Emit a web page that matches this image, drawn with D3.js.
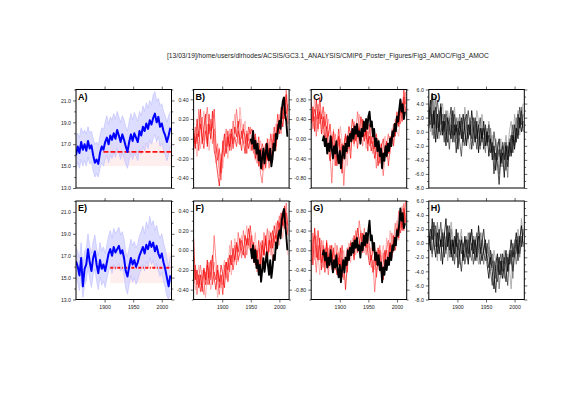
<!DOCTYPE html>
<html>
<head>
<meta charset="utf-8">
<script src="https://cdn.jsdelivr.net/npm/d3@7"></script>
<style>
	body { margin: 0; background: #fff; }
	svg { display: block; font-family: "Liberation Sans", Arial, sans-serif; }
</style>
</head>
<body>
<svg id="chart" width="561" height="397"></svg>
<script>
// years of the model members (every 3rd year) and of the observations (every 2nd year)
var years = d3.range(1850, 2016, 3),
	obsYearsLate = d3.range(1950, 2015, 2),
	obsYearsLong = d3.range(1870, 2015, 2);

var titleText = "[13/03/19]/home/users/dlrhodes/ACSIS/GC3.1_ANALYSIS/CMIP6_Poster_Figures/Fig3_AMOC/Fig3_AMOC";
var xTicks = [1900, 1950, 2000];

// A) ensemble mean, spread, reference level
var aMean = [16.0,16.8,16.2,17.2,16.5,17.0,16.4,17.3,16.6,16.9,16.0,15.3,15.6,15.2,16.2,16.8,16.5,17.2,17.6,17.0,17.8,17.4,18.0,17.5,18.3,17.8,17.2,17.9,17.4,16.8,16.3,17.2,17.9,17.3,18.0,17.6,17.2,18.2,17.8,18.6,18.2,18.9,18.4,19.2,18.8,19.4,19.8,19.0,19.5,18.6,18.9,18.2,17.8,17.2,17.8,18.5];
var aHi = [17.8,18.0,17.6,18.5,18.0,18.3,17.9,18.6,18.0,18.2,17.5,17.0,17.2,16.9,17.8,18.5,18.3,19.0,19.6,18.8,19.5,19.2,19.8,19.3,20.0,19.5,19.0,19.6,19.2,18.6,18.2,19.1,19.8,19.2,19.9,19.5,19.1,20.0,19.6,20.5,20.0,20.8,20.3,21.0,20.6,21.5,21.8,20.9,21.2,20.5,20.7,20.0,19.6,19.0,19.6,20.0];
var aLo = [14.6,15.4,14.8,15.6,15.0,15.5,15.0,15.8,15.2,15.4,14.6,14.0,14.3,14.0,14.8,15.3,15.0,15.6,16.0,15.3,16.0,15.7,16.3,15.8,16.6,16.2,15.6,16.2,15.7,15.2,14.8,15.6,16.2,15.6,16.2,15.9,15.5,16.5,16.1,16.8,16.4,17.1,16.6,17.4,17.0,17.5,17.9,17.2,17.7,16.8,17.1,16.5,16.0,15.5,16.1,16.8];
var aRef = [1898, 16.3, 15.0, 17.2];   // start year, level, band low, band high

// E) ensemble mean, spread, reference level
var eMean = [16.5,16.0,15.2,16.8,14.2,15.8,16.2,17.6,16.4,15.6,16.8,17.4,16.2,15.4,16.6,15.8,16.2,15.6,16.4,17.2,17.6,17.0,17.8,17.3,17.6,17.9,17.2,17.5,16.8,15.6,15.1,16.0,16.8,16.2,16.6,16.0,16.4,17.0,17.4,17.8,17.2,18.0,17.6,18.3,17.8,18.2,17.4,17.9,17.2,16.8,17.2,16.4,15.8,15.0,14.2,15.2];
var eHi = [17.8,17.4,16.8,18.2,16.0,17.4,17.7,19.0,17.9,17.2,18.3,18.9,17.7,17.0,18.2,17.4,17.8,17.2,18.0,18.8,19.3,18.6,19.5,19.0,19.3,19.6,18.9,19.2,18.5,17.3,16.9,17.7,18.5,17.9,18.3,17.7,18.1,18.8,19.2,19.7,19.0,20.1,19.5,20.6,19.8,20.2,19.3,19.8,19.0,18.6,19.0,18.2,17.6,16.8,16.0,17.0];
var eLo = [15.0,14.6,13.8,15.3,13.2,14.3,14.7,16.0,14.9,14.1,15.3,15.8,14.7,13.9,15.1,14.3,14.7,14.1,14.9,15.6,16.0,15.4,16.2,15.7,16.0,16.3,15.6,15.9,15.2,14.0,13.5,14.4,15.2,14.6,15.0,14.4,14.8,15.4,15.8,16.2,15.6,16.5,16.0,16.8,16.2,16.6,15.8,16.3,15.6,15.1,15.5,14.7,14.1,13.3,13.0,13.6];
var eRef = [1910, 15.9, 14.5, 17.3];

// B) model members + observations
var b1 = [0.05,-0.10,0.20,0.02,0.30,-0.05,0.12,0.25,-0.08,0.15,0.00,0.28,-0.12,-0.20,-0.35,-0.48,-0.25,-0.10,0.05,-0.15,0.02,-0.08,0.10,-0.05,0.12,0.02,0.18,-0.06,0.08,-0.02,-0.15,0.05,-0.10,0.00,-0.12,0.05,-0.20,-0.08,-0.28,-0.10,-0.32,-0.15,-0.05,-0.22,-0.10,-0.25,-0.05,0.05,-0.08,0.15,0.05,0.22,0.12,0.30,0.45,0.15];
var b2 = [-0.08,0.12,-0.05,0.30,0.10,0.22,-0.02,0.18,0.32,0.05,0.20,-0.05,0.10,-0.15,-0.05,-0.30,-0.42,-0.18,-0.05,0.10,-0.08,0.05,-0.12,0.18,0.05,0.30,0.12,0.20,0.00,0.15,-0.05,0.08,-0.02,0.12,-0.05,-0.15,0.02,-0.25,-0.12,-0.35,-0.45,-0.20,-0.28,-0.10,-0.30,-0.15,-0.22,0.00,-0.12,0.08,0.18,0.05,0.35,0.20,0.50,0.28];
var b3 = [-0.15,0.02,-0.18,0.08,-0.10,0.12,0.28,0.05,0.15,-0.12,0.05,0.18,0.02,-0.25,-0.10,-0.38,-0.15,-0.30,-0.12,0.02,-0.20,0.10,0.00,0.08,0.25,0.10,-0.05,0.32,0.15,0.05,0.18,-0.08,0.06,-0.12,0.02,-0.10,-0.22,-0.05,-0.15,-0.02,-0.18,-0.32,-0.12,-0.20,0.00,-0.15,0.05,-0.10,0.15,0.02,0.25,0.10,0.15,0.38,0.20,0.05];
var b4 = [0.10,-0.05,0.05,-0.12,0.15,0.02,-0.10,0.08,-0.05,0.25,0.08,0.12,0.30,-0.05,-0.22,-0.10,-0.35,-0.02,-0.18,-0.08,0.08,-0.12,0.05,-0.10,0.02,-0.08,0.08,0.00,-0.12,0.10,0.02,-0.15,0.12,0.05,0.10,-0.08,0.05,-0.12,0.02,-0.22,-0.05,-0.12,-0.30,0.00,-0.18,0.05,-0.10,0.12,-0.02,0.25,0.10,0.32,0.20,0.42,0.25,0.35];
var bObs = [0.00,-0.05,0.08,-0.10,-0.02,-0.15,-0.05,-0.22,-0.12,-0.30,-0.20,-0.10,-0.25,-0.15,-0.05,-0.18,-0.22,-0.10,-0.28,-0.20,-0.05,-0.12,0.05,0.00,0.12,0.18,0.10,0.28,0.38,0.42,0.25,0.18,0.02];

// C) model members + observations
var c1 = [0.30,0.65,0.15,0.80,0.40,0.55,0.10,0.45,-0.05,0.25,-0.20,-0.45,0.05,-0.30,-0.10,-0.55,0.05,-0.25,-0.70,-0.15,0.10,-0.10,0.25,0.05,0.40,0.15,-0.05,0.30,0.10,0.45,0.20,-0.05,0.20,-0.10,0.05,-0.25,-0.05,-0.40,-0.15,-0.55,-0.30,-0.10,-0.45,-0.20,-0.05,-0.30,0.05,-0.10,0.20,0.05,0.40,0.25,0.60,0.35,0.85,0.55];
var c2 = [0.55,0.20,0.45,0.05,0.70,0.30,0.50,0.20,0.35,0.00,0.15,-0.30,-0.90,-0.20,0.10,-0.20,-0.45,0.00,-0.25,-0.95,-0.35,0.05,-0.20,0.15,-0.05,0.35,0.10,0.55,0.25,0.05,-0.15,0.30,0.00,0.15,-0.15,0.05,-0.30,-0.10,-0.60,-0.25,-0.10,-0.40,-0.75,-0.30,-0.10,0.10,-0.20,0.05,0.30,0.10,0.25,0.55,0.30,0.70,0.45,0.95];
var c3 = [0.10,0.40,0.85,0.25,0.15,0.60,0.30,0.05,0.55,0.20,0.40,0.10,-0.25,0.20,-0.40,0.00,-0.15,0.25,-0.05,-0.40,-0.10,-0.55,0.00,-0.25,0.10,-0.15,0.30,0.00,0.50,0.15,0.35,0.10,-0.20,0.35,0.10,0.25,-0.05,0.15,-0.20,0.00,-0.35,-0.60,-0.20,0.05,-0.40,-0.15,-0.30,0.20,-0.05,0.40,0.15,0.05,0.50,0.75,0.40,0.65];
var c4 = [0.75,0.35,0.60,0.45,0.20,0.85,0.40,0.65,0.25,0.50,0.05,0.30,-0.10,0.15,-0.55,-0.20,0.20,-0.35,-0.10,-0.20,0.05,-0.30,-0.05,-0.40,0.20,-0.10,0.15,-0.20,0.20,-0.05,0.40,0.05,0.15,-0.25,0.30,-0.10,0.15,-0.20,0.10,-0.30,-0.50,-0.15,0.00,-0.35,-0.10,-0.55,-0.20,0.10,-0.15,0.25,0.55,0.30,0.80,0.50,1.00,0.70];
var cObs = [-0.05,0.05,-0.15,0.00,-0.30,-0.10,-0.25,0.05,-0.20,-0.40,-0.15,-0.30,-0.05,-0.35,-0.50,-0.25,-0.60,-0.35,-0.15,-0.40,-0.10,-0.25,0.05,-0.15,0.10,-0.05,0.20,0.00,0.25,0.10,0.30,0.05,0.15,-0.10,0.20,0.05,0.35,0.15,0.40,0.20,0.45,0.55,0.25,0.35,0.05,0.20,-0.15,0.00,-0.25,-0.05,-0.35,-0.20,-0.60,-0.30,-0.45,-0.15,-0.35,-0.10,-0.25,0.00,-0.15,0.15,0.05,0.30,0.15,0.45,0.35,0.60,0.80,0.55,0.70,0.40,0.55];

// D) members
var d1 = [2.0,4.5,0.5,3.0,-1.5,2.5,0.0,3.5,-0.5,1.5,-2.0,2.0,0.5,-1.0,3.0,-0.5,1.0,-2.5,1.5,-1.0,2.5,0.0,-2.0,1.0,-0.5,3.0,0.5,-1.5,1.5,-3.0,0.5,-1.0,1.5,-2.0,0.0,-3.5,-1.0,-4.0,-2.0,-5.5,-2.5,-1.0,-4.5,-3.0,-6.5,-2.0,-4.0,-1.5,-3.5,-0.5,-2.5,0.5,-1.0,2.0,0.0,1.5];
var d2 = [0.5,2.5,5.5,1.0,3.5,-1.0,1.5,4.0,0.0,2.5,0.5,-1.5,1.5,3.5,-1.5,1.0,-3.0,0.5,-0.5,2.0,-1.5,1.5,2.5,-1.0,1.0,-2.5,0.0,2.0,-1.0,1.0,-2.0,0.5,-2.5,1.0,-1.5,-0.5,-3.0,-1.5,-6.0,-3.0,-4.5,-7.5,-3.5,-2.0,-4.0,-1.5,-5.0,-2.5,-0.5,-3.0,1.0,-1.5,2.5,0.5,3.0,0.0];
var d3s = [3.0,1.0,2.5,-1.0,1.5,4.5,2.0,-0.5,1.5,-1.5,2.5,0.0,-2.5,1.0,-0.5,2.5,0.0,1.5,-1.5,-3.5,0.0,-2.0,1.0,3.0,0.5,-1.0,2.0,-0.5,-2.5,0.5,2.0,-1.5,0.5,-0.5,-2.0,1.0,-1.5,-3.0,0.0,-2.0,-4.0,-2.5,-5.0,-1.5,-3.0,-5.5,-2.0,-3.5,-1.0,1.0,-2.0,-0.5,0.5,3.5,1.0,2.5];
var d4 = [1.0,3.5,-0.5,2.0,5.0,0.5,3.0,1.0,2.5,0.0,3.0,1.5,-0.5,2.0,0.5,-1.5,2.0,-0.5,2.5,0.0,-1.0,2.0,-1.5,0.0,2.0,0.0,-2.0,1.0,0.0,-1.0,-2.5,-0.5,-1.0,-3.0,0.5,-1.5,0.5,-2.5,-4.0,-1.0,-3.0,-6.0,-2.5,-4.5,-1.5,-3.5,-6.5,-1.0,-3.0,0.0,-1.5,2.0,-0.5,1.5,3.5,0.5];
var d5 = [4.0,0.0,2.0,5.0,0.5,1.5,-1.0,2.5,4.0,1.0,-0.5,3.0,1.0,0.0,1.5,3.5,-1.0,2.0,0.5,1.5,-2.0,3.5,0.5,-1.0,-2.5,1.5,-1.0,0.0,3.0,1.5,-1.0,2.5,-0.5,0.5,-1.0,1.5,-1.0,-0.5,-2.5,-4.0,-1.5,-3.5,-1.0,-5.0,-2.5,-0.5,-3.0,0.0,1.5,-1.5,2.5,0.0,3.0,-0.5,2.0,4.0];

// F) model members + observations
var f1 = [0.12,-0.30,-0.20,-0.38,-0.25,-0.42,-0.18,-0.30,-0.10,-0.35,-0.22,-0.05,-0.28,-0.40,-0.20,-0.32,-0.15,-0.25,-0.38,-0.12,-0.20,-0.05,-0.15,0.02,-0.10,0.08,-0.02,0.12,0.00,-0.05,0.15,0.05,0.22,0.10,-0.05,0.08,-0.15,0.00,-0.20,-0.08,0.10,-0.05,0.12,-0.10,0.05,0.18,0.02,0.25,0.12,0.30,0.20,0.38,0.25,0.45,0.30,0.15];
var f2 = [-0.35,-0.20,-0.45,-0.28,-0.15,-0.32,-0.45,-0.22,-0.35,-0.12,-0.30,-0.18,0.15,-0.10,-0.32,-0.45,-0.25,-0.35,-0.15,-0.28,-0.08,-0.22,0.10,-0.12,0.05,-0.15,0.18,0.05,-0.08,0.20,0.08,-0.05,0.12,0.00,0.15,-0.08,0.05,-0.22,-0.10,0.08,-0.15,0.18,0.05,0.22,-0.02,0.10,-0.10,0.15,0.00,0.22,0.35,0.15,0.40,0.28,0.48,0.20];
var f3 = [-0.22,-0.40,-0.28,-0.15,-0.35,-0.20,-0.30,-0.48,-0.25,-0.18,-0.40,-0.28,-0.12,-0.22,-0.48,-0.30,-0.38,-0.20,-0.10,-0.30,-0.18,0.05,-0.25,-0.10,0.12,0.00,-0.12,0.05,0.15,-0.02,0.10,0.25,0.02,0.15,-0.10,0.05,0.18,-0.12,0.02,-0.25,0.00,0.08,-0.12,0.05,0.20,-0.05,0.12,0.05,0.28,0.15,0.05,0.25,0.12,0.35,0.18,-0.05];
var f4 = [-0.28,-0.15,-0.35,-0.25,-0.42,-0.30,-0.20,-0.35,-0.15,-0.28,-0.10,-0.35,-0.22,-0.30,-0.15,-0.38,-0.25,-0.45,-0.20,-0.12,-0.32,-0.15,-0.05,-0.20,-0.08,0.05,-0.10,-0.02,0.10,0.02,-0.08,0.12,0.05,0.25,0.08,-0.12,0.02,-0.08,0.10,-0.15,0.05,-0.05,0.15,-0.08,0.10,0.02,0.20,0.08,0.15,0.05,0.28,0.18,0.30,0.22,0.38,0.25];
var fObs = [0.02,-0.08,0.05,-0.12,0.00,-0.18,-0.10,-0.25,-0.15,-0.32,-0.20,-0.08,-0.22,-0.12,-0.02,-0.15,-0.25,-0.10,-0.28,-0.18,-0.05,-0.10,0.08,0.02,0.15,0.20,0.12,0.30,0.36,0.42,0.28,0.15,0.00];

// G) model members + observations
var g1 = [0.20,-0.30,0.45,0.05,-0.20,0.25,-0.40,0.00,-0.25,0.15,-0.35,-0.10,0.10,-0.45,-0.20,-0.05,-0.30,0.05,-0.55,-0.20,-0.80,-0.30,-0.10,0.15,-0.05,0.30,0.10,0.45,0.20,0.00,0.35,0.10,0.25,-0.05,-0.30,-0.10,-0.45,-0.15,-0.30,0.05,-0.20,-0.50,-0.25,0.00,-0.35,-0.10,0.15,-0.05,0.30,0.10,0.45,0.25,0.70,0.40,0.85,0.55];
var g2 = [-0.10,0.35,-0.05,-0.45,0.10,-0.20,0.20,-0.35,0.05,-0.15,-0.50,-0.05,-0.25,0.00,-0.40,0.10,-0.10,-0.35,-0.15,-0.60,-0.25,0.05,-0.20,0.20,0.00,-0.15,0.40,0.15,0.60,0.30,0.10,0.45,-0.10,0.15,0.00,-0.35,-0.20,-0.85,-0.40,-0.20,0.10,-0.25,-0.05,-0.40,0.05,0.20,-0.10,0.35,0.15,0.55,0.30,0.80,0.45,0.65,0.95,0.60];
var g3 = [0.50,0.10,-0.20,0.30,-0.10,-0.50,0.05,0.20,-0.30,-0.10,0.05,-0.25,-0.40,-0.10,0.15,-0.30,-0.05,-0.45,-0.20,0.00,-0.35,-0.10,0.15,-0.25,0.25,0.05,-0.10,0.20,0.00,0.40,0.20,-0.05,0.30,0.10,-0.20,0.05,-0.15,-0.40,0.00,-0.25,-0.45,-0.10,0.10,-0.20,0.25,-0.05,0.40,0.10,-0.05,0.30,0.60,0.20,0.50,0.90,0.45,0.75];
var g4 = [-0.30,0.15,0.30,-0.15,0.40,0.00,-0.25,0.10,-0.45,0.20,-0.15,0.10,-0.30,0.05,-0.25,-0.50,-0.15,-0.30,0.10,-0.40,-0.15,-0.45,0.05,-0.10,0.10,-0.20,0.25,-0.05,0.10,0.35,-0.05,0.20,0.05,0.30,0.10,-0.20,0.05,-0.10,-0.55,-0.20,0.00,-0.30,-0.60,-0.15,0.00,-0.30,0.10,-0.15,0.20,0.00,0.25,0.50,0.35,0.60,0.40,1.00];
var gObs = [-0.10,0.00,-0.20,-0.05,-0.35,-0.15,-0.30,0.00,-0.25,-0.45,-0.20,-0.35,-0.10,-0.40,-0.55,-0.30,-0.65,-0.40,-0.20,-0.45,-0.15,-0.30,0.00,-0.20,0.05,-0.10,0.15,-0.05,0.20,0.05,0.25,0.00,0.10,-0.15,0.15,0.00,0.30,0.10,0.35,0.15,0.40,0.60,0.20,0.30,0.00,0.15,-0.20,-0.05,-0.30,-0.10,-0.40,-0.25,-0.65,-0.35,-0.50,-0.20,-0.40,-0.15,-0.30,-0.05,-0.20,0.10,0.00,0.25,0.10,0.40,0.30,0.55,0.85,0.60,0.75,0.45,0.55];

// H) members
var h1 = [1.0,-1.0,3.5,0.0,-2.0,1.5,-1.5,0.5,-3.0,1.0,3.5,-0.5,1.5,-2.0,0.5,-1.5,2.0,-3.5,-1.0,0.5,-2.5,1.0,-1.0,-3.0,0.0,2.0,-1.5,0.5,-2.0,2.5,-0.5,-2.5,-1.0,0.5,-3.0,-5.0,-2.0,-4.0,-6.5,-3.0,-1.5,-4.5,-2.5,-5.0,-3.0,-1.0,-4.0,-2.0,0.5,-2.0,-0.5,1.5,-1.5,0.5,2.5,-0.5];
var h2 = [-0.5,2.0,0.5,3.0,1.0,-1.5,2.0,-0.5,1.5,-2.0,0.0,2.5,-1.0,0.5,-2.5,1.0,-0.5,1.5,-2.0,-4.0,-1.0,-2.0,0.5,-1.5,1.5,-1.0,0.5,-2.5,-0.5,1.0,-1.5,0.0,2.0,-1.0,-2.0,-3.5,-1.0,-2.5,-4.0,-7.0,-3.5,-2.0,-4.5,-1.5,-3.5,-5.5,-2.0,-3.0,-1.0,-4.0,-1.5,0.5,-2.5,1.0,-0.5,2.0];
var h3 = [2.0,0.0,-1.5,1.0,2.5,-0.5,0.5,3.0,-0.5,1.5,-1.0,0.5,2.5,-1.5,0.0,-3.0,0.5,-1.0,0.5,-1.5,0.0,-3.0,-1.5,0.5,-2.0,0.0,-3.0,-1.0,1.5,-1.0,-3.0,0.5,-1.5,-2.5,0.0,-2.0,-4.0,-6.0,-2.5,-4.0,-5.5,-3.0,-1.5,-4.0,-2.0,-3.5,-6.0,-1.5,-3.0,0.0,-2.0,-1.0,1.0,-1.5,0.0,1.5];
var h4 = [0.0,1.0,-2.0,2.0,-0.5,3.0,0.0,-2.5,1.0,0.0,-1.5,1.5,-2.0,2.0,-0.5,0.5,-2.0,0.0,-3.0,1.0,-0.5,0.5,-2.0,1.5,-1.0,-2.5,1.0,-0.5,-2.5,0.0,1.5,-1.0,-3.0,-0.5,-1.5,0.5,-3.0,-1.5,-3.0,-5.0,-2.0,-6.5,-3.5,-2.5,-5.0,-2.0,-4.0,-1.0,-2.5,-5.0,-1.0,-3.0,0.0,-2.0,1.0,0.0];
var h5 = [1.5,0.0,2.5,-1.0,0.5,-2.5,1.5,0.0,2.0,-1.0,1.0,-2.5,0.0,3.0,1.0,-1.0,1.0,-2.0,0.5,2.0,-2.0,0.0,1.0,-2.5,0.5,1.5,-1.5,1.0,-1.0,-3.0,-0.5,1.5,-1.0,0.0,-2.0,-0.5,-1.5,-3.5,-1.0,-2.5,-4.0,-2.0,-5.0,-3.5,-1.0,-3.0,-1.5,-3.5,-6.5,-2.5,0.5,-1.5,2.0,-0.5,3.5,1.0];

var redShades  = ["#ff9a9a", "#ff5a5a", "#ff1a1a", "#ee0000"],
	greyShades = ["#a0a0a0", "#707070", "#404040", "#202020", "#000000"];

var fmt1 = d => d.toFixed(1), fmt2 = d => d.toFixed(2);

var axesB = {domain: [-0.5, 0.5], major: [-0.4, -0.2, 0, 0.2, 0.4], minor: [-0.5, -0.3, -0.1, 0.1, 0.3, 0.5], fmt: fmt2},
	axesC = {domain: [-1, 1], major: [-0.8, -0.4, 0, 0.4, 0.8], minor: [-1, -0.6, -0.2, 0.2, 0.6, 1], fmt: fmt2},
	axesD = {domain: [-8, 6], major: [-8, -6, -4, -2, 0, 2, 4, 6], minor: [-7, -5, -3, -1, 1, 3, 5], fmt: fmt1},
	axesA = {domain: [13, 22], major: [13, 15, 17, 19, 21], minor: [14, 16, 18, 20, 22], fmt: fmt1};

var panels = [
	{label: "A)", row: 0, col: 0, ax: axesA, mean: aMean, hi: aHi, lo: aLo, ref: aRef, dash: "5,2"},
	{label: "B)", row: 0, col: 1, ax: axesB, members: [b3, b2, b4, b1], colors: redShades, obs: bObs, obsYears: obsYearsLate},
	{label: "C)", row: 0, col: 2, ax: axesC, members: [c3, c2, c4, c1], colors: redShades, obs: cObs, obsYears: obsYearsLong},
	{label: "D)", row: 0, col: 3, ax: axesD, members: [d5, d4, d3s, d2, d1], colors: greyShades},
	{label: "E)", row: 1, col: 0, ax: axesA, mean: eMean, hi: eHi, lo: eLo, ref: eRef, dash: "3,1.5,1,1.5"},
	{label: "F)", row: 1, col: 1, ax: axesB, members: [f3, f2, f4, f1], colors: redShades, obs: fObs, obsYears: obsYearsLate},
	{label: "G)", row: 1, col: 2, ax: axesC, members: [g3, g2, g4, g1], colors: redShades, obs: gObs, obsYears: obsYearsLong},
	{label: "H)", row: 1, col: 3, ax: axesD, members: [h5, h4, h3, h2, h1], colors: greyShades}
];

var svg = d3.select("#chart");

svg.append("text")
	.attr("x", 167).attr("y", 58)
	.attr("font-size", 6.7).attr("fill", "#222")
	.text(titleText);

var pw = 95.5, ph = 98.5, step = 117.6, tops = [89.5, 201];

panels.forEach(function(p, i) {
	var left = 76 + step * p.col, top = tops[p.row];

	var x = d3.scaleLinear([1850, 2017], [left, left + pw]),
		y = d3.scaleLinear(p.ax.domain, [top + ph, top]);

	var g = svg.append("g");

	g.append("clipPath").attr("id", "clip" + i)
		.append("rect").attr("x", left).attr("y", top).attr("width", pw).attr("height", ph);

	var plot = g.append("g").attr("clip-path", "url(#clip" + i + ")");

	var line = (xs) => d3.line().x((d, j) => x(xs[j])).y(d => y(d));

	if (p.mean) {
		// reference band and level
		plot.append("rect")
			.attr("x", x(p.ref[0])).attr("width", x(2017) - x(p.ref[0]))
			.attr("y", y(p.ref[3])).attr("height", y(p.ref[2]) - y(p.ref[3]))
			.attr("fill", "#ffeeee");

		plot.append("path")
			.datum(p.hi)
			.attr("fill", "#d4d4ff").attr("opacity", 0.8)
			.attr("d", d3.area().x((d, j) => x(years[j])).y0((d, j) => y(p.lo[j])).y1(d => y(d)));

		plot.append("path").datum(p.hi)
			.attr("fill", "none").attr("stroke", "#bcbcff").attr("stroke-width", 0.6)
			.attr("d", line(years));
		plot.append("path").datum(p.lo)
			.attr("fill", "none").attr("stroke", "#bcbcff").attr("stroke-width", 0.6)
			.attr("d", line(years));

		plot.append("line")
			.attr("x1", x(p.ref[0])).attr("x2", x(2017))
			.attr("y1", y(p.ref[1])).attr("y2", y(p.ref[1]))
			.attr("stroke", "#ff1010").attr("stroke-width", 1.8)
			.attr("stroke-dasharray", p.dash);

		plot.append("path").datum(p.mean)
			.attr("fill", "none").attr("stroke", "#0000ff").attr("stroke-width", 2)
			.attr("stroke-linejoin", "round")
			.attr("d", line(years));
	}

	if (p.members) {
		plot.selectAll(".member")
			.data(p.members)
		.enter().append("path")
			.attr("class", "member")
			.attr("fill", "none")
			.attr("stroke", (d, j) => p.colors[j])
			.attr("stroke-width", p.obs ? 0.7 : 0.8)
			.attr("d", d => line(years)(d));
	}

	if (p.obs) {
		plot.append("path").datum(p.obs)
			.attr("fill", "none").attr("stroke", "#000").attr("stroke-width", 1.9)
			.attr("stroke-linejoin", "round")
			.attr("d", line(p.obsYears));
	}

	// frame
	g.append("rect")
		.attr("x", left).attr("y", top).attr("width", pw).attr("height", ph)
		.attr("fill", "none").attr("stroke", "#000").attr("stroke-width", 1);

	var styleAxis = a => {
		a.select(".domain").remove();
		a.attr("font-size", 5.2).attr("font-family", null);
		a.selectAll("line").attr("stroke", "#000").attr("stroke-width", 0.6);
		a.selectAll("text").attr("fill", "#222");
	};

	g.append("g").attr("transform", "translate(" + left + ",0)")
		.call(d3.axisLeft(y).tickValues(p.ax.major).tickSize(3).tickPadding(2).tickFormat(p.ax.fmt))
		.call(styleAxis);
	g.append("g").attr("transform", "translate(" + left + ",0)")
		.call(d3.axisLeft(y).tickValues(p.ax.minor).tickSize(1.8).tickFormat(""))
		.call(styleAxis);
	g.append("g").attr("transform", "translate(" + (left + pw) + ",0)")
		.call(d3.axisRight(y).tickValues(p.ax.major).tickSize(3).tickFormat(""))
		.call(styleAxis);
	g.append("g").attr("transform", "translate(" + (left + pw) + ",0)")
		.call(d3.axisRight(y).tickValues(p.ax.minor).tickSize(1.8).tickFormat(""))
		.call(styleAxis);
	g.append("g").attr("transform", "translate(0," + top + ")")
		.call(d3.axisTop(x).tickValues(xTicks).tickSize(3).tickFormat(""))
		.call(styleAxis);
	g.append("g").attr("transform", "translate(0," + (top + ph) + ")")
		.call(d3.axisBottom(x).tickValues(xTicks).tickSize(p.row ? 3 : 0).tickPadding(3)
			.tickFormat(p.row ? d3.format("d") : ""))
		.call(styleAxis);

	g.append("text")
		.attr("x", left + 2).attr("y", top + 10)
		.attr("font-size", 9).attr("font-weight", "bold")
		.text(p.label);
});
</script>
</body>
</html>
